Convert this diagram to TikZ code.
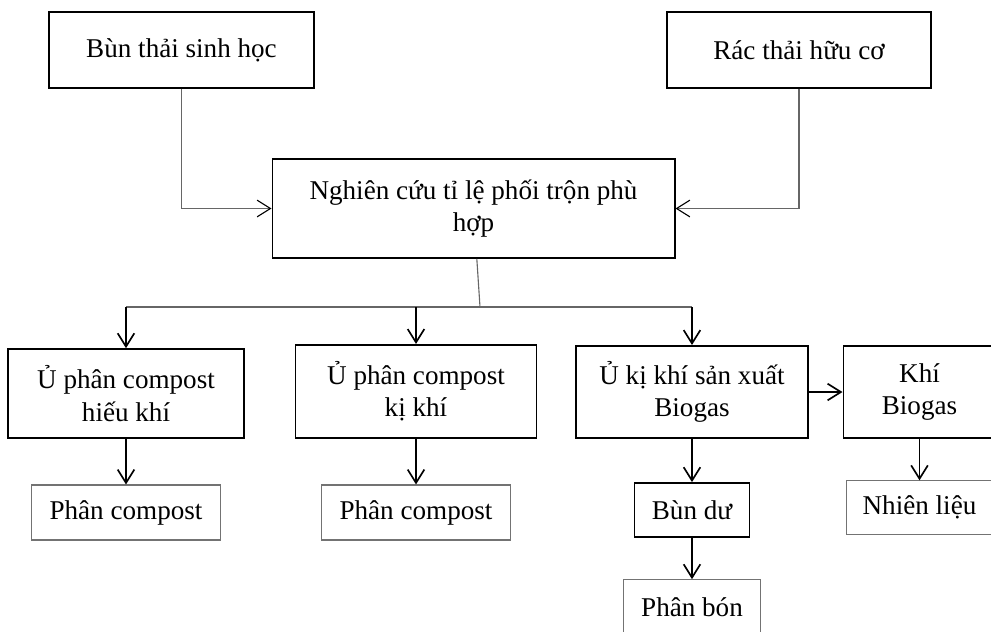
\documentclass[tikz,border=0pt]{standalone}
\usepackage{fontspec}
\setmainfont{Liberation Serif}
\usetikzlibrary{arrows.meta}

\begin{document}
\begin{tikzpicture}[x=0.45pt, y=-0.45pt,
    font=\fontsize{12.2pt}{14.5pt}\selectfont,
    every text node part/.style={align=center},
    >={Straight Barb[length=6pt,width=7.5pt]},
    bigbox/.style={draw, line width=0.8pt, inner sep=2pt},
    smallbox/.style={draw=black!55, line width=0.5pt, inner sep=2pt},
    link/.style={draw=black!60, line width=0.5pt},
    flow/.style={->, line width=0.75pt}]

    \path[use as bounding box] (0,0) rectangle (991,631);
    \clip (0,0) rectangle (991,631);

    % --------------------------------------------------------- %
    % ------------- inputs
    % --------------------------------------------------------- %
    \node[bigbox, minimum width=119pt, minimum height=34pt] (bun) at (181.5,50) {Bùn thải sinh học};
    \node[bigbox, minimum width=119pt, minimum height=34pt] (rac) at (799,50) {Rác thải hữu cơ};

    % --------------------------------------------------------- %
    % ------------- mixing study
    % --------------------------------------------------------- %
    \node[bigbox, minimum width=181pt, minimum height=44.5pt] (tron) at (473.5,208.5) {Nghiên cứu tỉ lệ phối trộn phù\\hợp};
    \draw [link, -{Straight Barb[length=6pt,width=7.5pt,color=black]}] (bun) |- (tron);
    \draw [link, -{Straight Barb[length=6pt,width=7.5pt,color=black]}] (rac) |- (tron);

    % --------------------------------------------------------- %
    % ------------ treatments
    % --------------------------------------------------------- %
    \coordinate (bus) at (480,307);
    % --- aerobic compost
    \node[bigbox, minimum width=106pt, minimum height=40pt] (hieukhi) at (126,393.5) {Ủ phân compost\\hiếu khí};
    % --- anaerobic compost
    \node[bigbox, minimum width=108.5pt, minimum height=42pt] (kikhi) at (416,391.5) {Ủ phân compost\\kị khí};
    % --- biogas digester
    \node[bigbox, minimum width=104.5pt, minimum height=41.5pt] (biogas) at (692,392) {Ủ kị khí sản xuất\\Biogas};
    \node[bigbox, minimum width=68.5pt, minimum height=41.5pt] (khi) at (919.5,392) {Khí\\Biogas};

    \draw [link] (tron) -- (bus);
    \draw [link] (bus -| hieukhi) -- (bus -| biogas);
    \draw [flow] (bus -| hieukhi) -- (hieukhi);
    \draw [flow] (bus -| kikhi) -- (kikhi);
    \draw [flow] (bus -| biogas) -- (biogas);
    \draw [flow] (biogas) -- (khi);

    % --------------------------------------------------------- %
    % ------------ products
    % --------------------------------------------------------- %
    \node[smallbox, minimum width=85pt, minimum height=24.75pt] (compost1) at (126,512.5) {Phân compost};
    \draw [flow] (hieukhi) -- (compost1);
    \node[smallbox, minimum width=85pt, minimum height=24.75pt] (compost2) at (416,512.5) {Phân compost};
    \draw [flow] (kikhi) -- (compost2);
    \node[bigbox, minimum width=51.75pt, minimum height=24.3pt] (bundu) at (692,510) {Bùn dư};
    \draw [flow] (biogas) -- (bundu);
    \node[smallbox, minimum width=61.5pt, minimum height=25pt] (phanbon) at (692,607.5) {Phân bón};
    \draw [flow] (bundu) -- (phanbon);
    \node[smallbox, minimum width=66pt, minimum height=24pt] (nhienlieu) at (919.5,507.5) {Nhiên liệu};
    \draw [flow] (khi) -- (nhienlieu);

\end{tikzpicture}
\end{document}
